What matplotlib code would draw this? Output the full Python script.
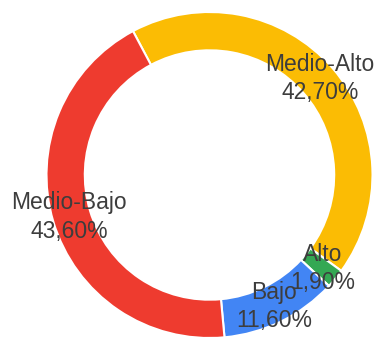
import matplotlib.pyplot as plt
import numpy as np

labels = ['Medio-Alto', 'Alto', 'Bajo', 'Medio-Bajo']
values = [42.7, 1.9, 11.6, 43.6]
colors = ['#FBBC04', '#34A853', '#4285F4', '#EE3B2F']

start = 118
fig = plt.figure(figsize=(3.76, 3.42), dpi=100)
ax = fig.add_axes([0, 0, 1, 1])

ax.pie(values, colors=colors, startangle=start, counterclock=False,
       wedgeprops=dict(width=0.235, edgecolor='white', linewidth=1.5))

# labels sit in the middle of the ring, at each slice's mid angle
fracs = np.array(values) / sum(values) * 360
ends = start - np.cumsum(fracs)
mids = ends + fracs / 2
for lab, v, a in zip(labels, values, mids):
    r = 0.9
    x = r * np.cos(np.radians(a))
    y = r * np.sin(np.radians(a))
    txt = lab + '\n' + ('%.2f' % v).replace('.', ',') + '%'
    ax.text(x, y, txt, ha='center', va='center', fontsize=16.5,
            family='Liberation Sans', color='#3d3d3d', linespacing=1.3)

ax.set_xlim(-209.5 / 163, (376 - 209.5) / 163)
ax.set_ylim(-(342 - 175) / 163, 175 / 163)
ax.axis('off')

fig.savefig('out.png', dpi=100)
